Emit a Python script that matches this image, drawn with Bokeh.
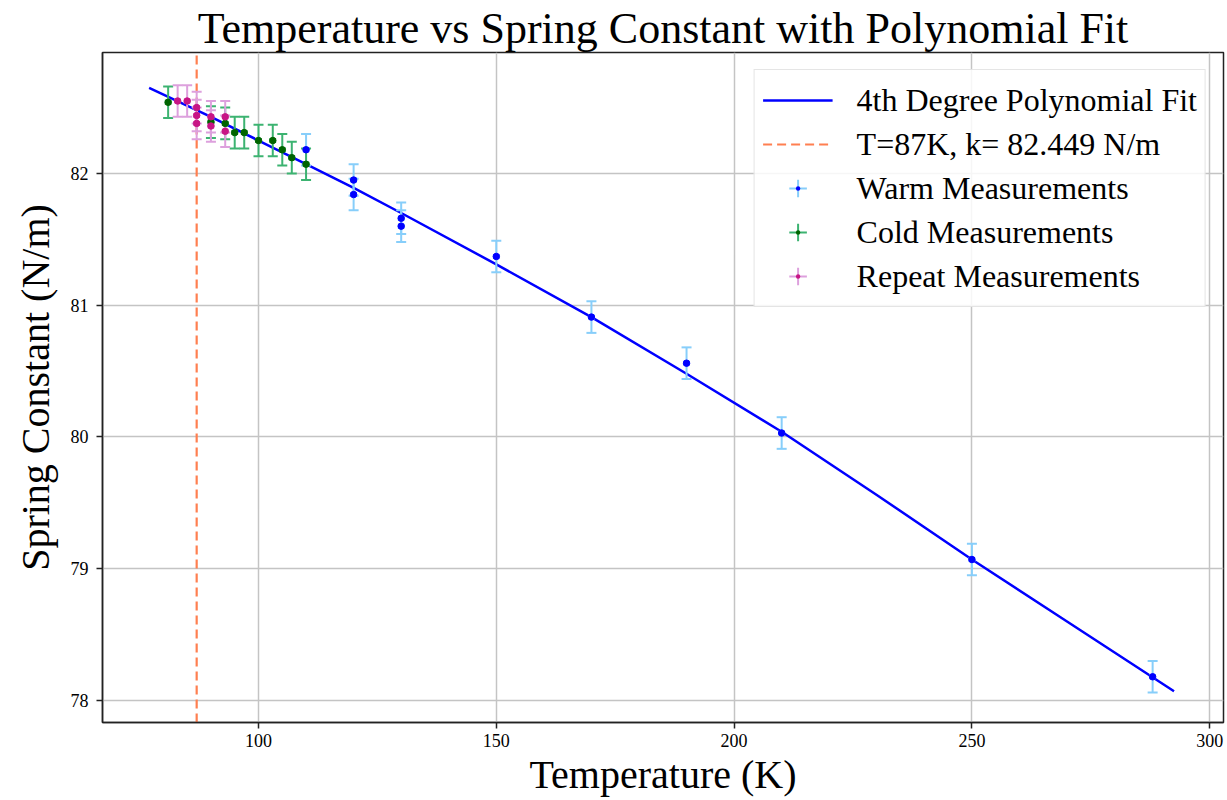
from bokeh.plotting import figure
from bokeh.models import (ColumnDataSource, Whisker, TeeHead, Legend, LegendItem,
                          Range1d, FixedTicker, Title)
from bokeh.embed import file_html
from bokeh.resources import INLINE

# ---------------- data ----------------
T_warm = [110, 120, 120, 130, 130, 150, 170, 190, 210, 250, 288]
k_warm = [82.18, 81.95, 81.84, 81.66, 81.60, 81.37, 80.91, 80.56, 80.03, 79.07, 78.18]

T_cold = [81, 90, 93, 95, 97, 100, 103, 105, 107, 110]
k_cold = [82.54, 82.39, 82.38, 82.31, 82.31, 82.25, 82.25, 82.18, 82.12, 82.07]

T_rep = [83, 85, 87, 87, 87, 90, 90, 93, 93]
k_rep = [82.55, 82.55, 82.50, 82.44, 82.38, 82.43, 82.36, 82.43, 82.32]

k_err = 0.12
T_err = 0.5

fit_T = [77, 90, 100, 110, 120, 130, 150, 170, 190, 210, 230, 250, 270, 292.5]
fit_k = [82.65, 82.43, 82.25, 82.07, 81.89, 81.70, 81.31, 80.91, 80.48, 80.04, 79.56, 79.07, 78.60, 78.07]

T_mark = 87
mark_label = "T=87K, k= 82.449 N/m"

x_ticks = [100, 150, 200, 250, 300]
y_ticks = [78, 79, 80, 81, 82]
x_lo, x_hi = 67.2, 302.9
y_lo, y_hi = 77.833, 82.918

FONT = "Liberation Serif"

p = figure(width=1227, height=800, output_backend="svg", toolbar_location=None,
           x_range=Range1d(x_lo, x_hi), y_range=Range1d(y_lo, y_hi),
           min_border_left=102, min_border_right=4, min_border_top=52,
           min_border_bottom=78)
p.title = Title(text="Temperature vs Spring Constant with Polynomial Fit",
                text_font=FONT, text_font_size="44px", text_font_style="normal",
                text_color="black", align="center", standoff=0)

p.background_fill_color = "white"
p.border_fill_color = "white"
p.outline_line_color = "#222222"
p.outline_line_width = 1.5

for ax in (p.xaxis[0], p.yaxis[0]):
    ax.axis_line_color = "#222222"
    ax.axis_line_width = 1.5
    ax.major_tick_line_color = "#222222"
    ax.major_tick_line_width = 1.5
    ax.major_tick_out = 6
    ax.major_tick_in = 0
    ax.minor_tick_line_color = None
    ax.major_label_text_font = FONT
    ax.major_label_text_font_size = "18px"
    ax.major_label_text_color = "black"
    ax.axis_label_text_font = FONT
    ax.axis_label_text_font_size = "40px"
    ax.axis_label_text_font_style = "normal"
    ax.axis_label_text_color = "black"

p.xaxis.ticker = FixedTicker(ticks=x_ticks)
p.yaxis.ticker = FixedTicker(ticks=y_ticks)
p.xaxis.axis_label = "Temperature (K)"
p.yaxis.axis_label = "Spring Constant (N/m)"
p.xaxis.major_label_standoff = 5
p.xaxis.axis_label_standoff = 2
p.yaxis.major_label_standoff = 8
p.yaxis.axis_label_standoff = 10

p.grid.grid_line_color = "#c4c4c4"
p.grid.grid_line_width = 1.5

# fit line
fit_r = p.line(fit_T, fit_k, line_color="#0000ff", line_width=2.5)

# vertical marker line
mark_r = p.line([T_mark, T_mark], [y_lo, y_hi], line_color="#ff7f50",
                line_width=2.2, line_dash="9 5")


def add_series(T, k, bar_color, dot_color):
    src = ColumnDataSource(dict(
        x=T, y=k,
        ylo=[v - k_err for v in k], yhi=[v + k_err for v in k],
        xlo=[v - T_err for v in T], xhi=[v + T_err for v in T]))
    wv = Whisker(source=src, base="x", lower="ylo", upper="yhi", dimension="height",
                 line_color=bar_color, line_width=2, level="glyph",
                 lower_head=TeeHead(size=10, line_color=bar_color, line_width=2),
                 upper_head=TeeHead(size=10, line_color=bar_color, line_width=2))
    wh = Whisker(source=src, base="y", lower="xlo", upper="xhi", dimension="width",
                 line_color=bar_color, line_width=2, level="glyph",
                 lower_head=TeeHead(size=5, line_color=bar_color, line_width=2),
                 upper_head=TeeHead(size=5, line_color=bar_color, line_width=2))
    p.add_layout(wv)
    p.add_layout(wh)
    dots = p.scatter("x", "y", source=src, size=6.5, fill_color=dot_color,
                     line_color=dot_color, level="annotation")
    # legend-only glyphs (no drawn points)
    leg_cross = p.scatter([float("nan")], [float("nan")], marker="cross", size=32,
                          line_color=bar_color, line_width=2)
    leg_dot = p.scatter([float("nan")], [float("nan")], marker="dot", size=26,
                        line_color=dot_color, fill_color=dot_color)
    return [leg_cross, leg_dot]


warm_leg = add_series(T_warm, k_warm, "#87cefa", "#0000ff")
cold_leg = add_series(T_cold, k_cold, "#3cb371", "#006400")
rep_leg = add_series(T_rep, k_rep, "#dda0dd", "#c71585")

legend = Legend(items=[
    LegendItem(label="4th Degree Polynomial Fit", renderers=[fit_r]),
    LegendItem(label=mark_label, renderers=[mark_r]),
    LegendItem(label="Warm Measurements", renderers=warm_leg),
    LegendItem(label="Cold Measurements", renderers=cold_leg),
    LegendItem(label="Repeat Measurements", renderers=rep_leg),
], location="top_right")
legend.label_text_font = FONT
legend.label_text_font_size = "32px"
legend.label_text_color = "black"
legend.glyph_width = 70
legend.glyph_height = 44
legend.label_height = 44
legend.spacing = 0
legend.padding = 8
legend.label_standoff = 24
legend.margin = 17
legend.border_line_color = "#cccccc"
legend.border_line_width = 1.5
legend.background_fill_color = "white"
legend.background_fill_alpha = 0.85
p.add_layout(legend)

open("out.html", "w").write(file_html(p, INLINE))
